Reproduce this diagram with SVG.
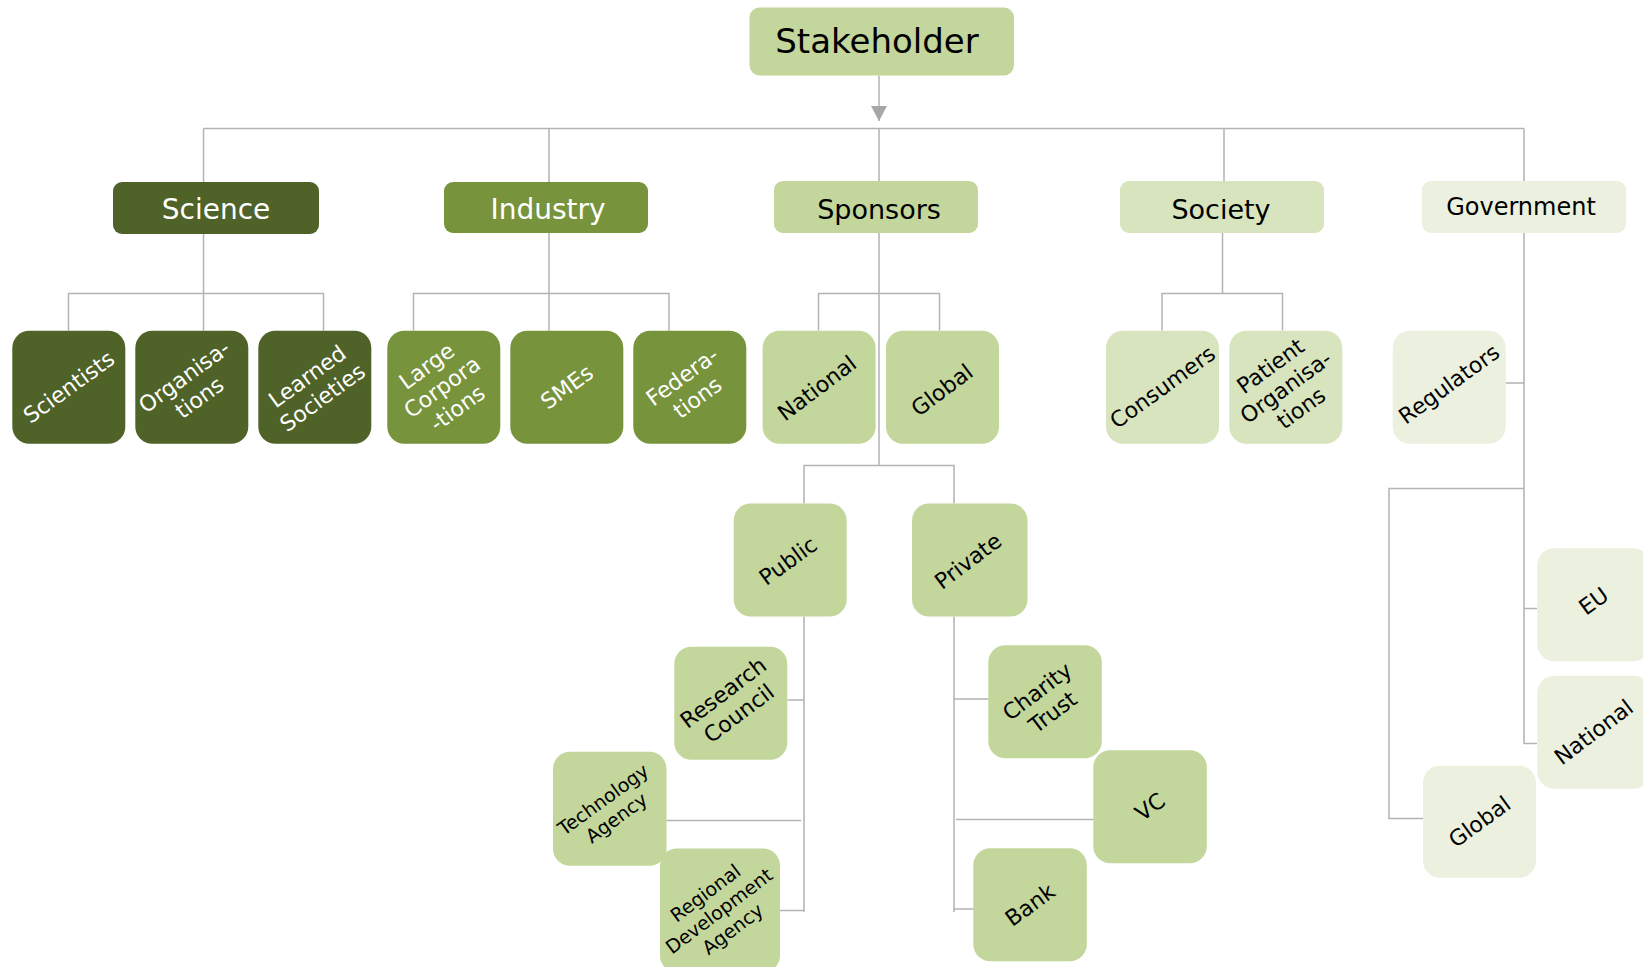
<svg xmlns="http://www.w3.org/2000/svg" width="1643" height="967" viewBox="0 0 1643 967">
<style>
.c{fill:none;stroke:#b3b3b3;stroke-width:1.5}
.t{font-family:"DejaVu Sans",Verdana,sans-serif;text-anchor:middle}
.w{fill:#ffffff}
.k{fill:#000000}
.s22{font-size:22px}
.s19{font-size:19px}
.dg{fill:#4f6228}
.mg{fill:#77933c}
.lg{fill:#c3d69b}
.sg{fill:#d7e4bd}
.pg{fill:#ebf1de}
</style>
<defs>
<marker id="ah" viewBox="0 0 16 16" markerWidth="16" markerHeight="16" refX="15" refY="8" orient="auto" markerUnits="userSpaceOnUse">
<path d="M0,0 L15,8 L0,16 Z" fill="#a6a6a6"/>
</marker>
</defs>
<rect width="1643" height="967" fill="#ffffff"/>
<g id="connectors">
<path class="c" d="M879,75.5 V121" marker-end="url(#ah)"/>
<path class="c" d="M203.5,128.5 H1524 M203.5,128.5 V182 M549,128.5 V182 M879,128.5 V181 M1224,128.5 V181 M1524,128.5 V181"/>
<path class="c" d="M203.5,234 V330.5 M68.5,330.5 V293.5 H323.5 V330.5"/>
<path class="c" d="M549,233 V330.5 M413.5,330.5 V293.5 H669 V330.5"/>
<path class="c" d="M879,233 V465.5 M818.5,330.5 V293.5 H939.5 V330.5 M804,503.5 V465.5 H954 V503.5"/>
<path class="c" d="M1222.5,233 V293.5 M1162,330.5 V293.5 H1282.5 V330.5"/>
<path class="c" d="M1524,233 V608.5 M1505.5,383 H1524 M1524,488.5 H1389 V818.5 H1423 M1524,608.5 H1537 M1524,608.5 V743.5 H1537"/>
<path class="c" d="M804,616.5 V912 M787.5,700 H804 M666.5,820.5 H801 M780,910.5 H804"/>
<path class="c" d="M954,616.5 V912 M954,699 H988.5 M956,819.5 H1093.5 M954,909 H973.5"/>
</g>
<g id="stakeholder"><rect class="lg" x="749.5" y="7.5" width="264.5" height="68" rx="10"/><text class="t k" x="877" y="53" font-size="34">Stakeholder</text></g>
<g id="science"><rect class="dg" x="113" y="182" width="206" height="52" rx="9"/><text class="t w" x="216" y="219" font-size="28">Science</text></g>
<g id="industry"><rect class="mg" x="444" y="182" width="204" height="51" rx="9"/><text class="t w" x="548" y="219" font-size="28">Industry</text></g>
<g id="sponsors"><rect class="lg" x="774" y="181" width="204" height="52" rx="9"/><text class="t k" x="879" y="219" font-size="27">Sponsors</text></g>
<g id="society"><rect class="sg" x="1120" y="181" width="204" height="52" rx="9"/><text class="t k" x="1221" y="219" font-size="27">Society</text></g>
<g id="government"><rect class="pg" x="1422" y="181" width="204" height="52" rx="9"/><text class="t k" x="1521" y="215" font-size="24">Government</text></g>

<g id="scientists"><rect class="dg" x="12.3" y="330.7" width="113" height="113" rx="17"/><text class="t w s22" transform="translate(68.8,387) rotate(-36)" x="0" y="7.7">Scientists</text></g>
<g id="organisations"><rect class="dg" x="135.3" y="330.7" width="113" height="113" rx="17"/><text class="t w s22" transform="translate(191.8,387) rotate(-36)"><tspan x="0" y="-5.3">Organisa-</tspan><tspan x="0" dy="26">tions</tspan></text></g>
<g id="learned-societies"><rect class="dg" x="258.3" y="330.7" width="113" height="113" rx="17"/><text class="t w s22" transform="translate(314.8,387) rotate(-36)"><tspan x="0" y="-5.3">Learned</tspan><tspan x="0" dy="26">Societies</tspan></text></g>
<g id="large-corporations"><rect class="mg" x="387.3" y="330.7" width="113" height="113" rx="17"/><text class="t w s22" transform="translate(442,387) rotate(-36)"><tspan x="0" y="-18.3">Large</tspan><tspan x="0" dy="26">Corpora</tspan><tspan x="0" dy="26">-tions</tspan></text></g>
<g id="smes"><rect class="mg" x="510.3" y="330.7" width="113" height="113" rx="17"/><text class="t w s22" transform="translate(566.8,387) rotate(-36)" x="0" y="7.7">SMEs</text></g>
<g id="federations"><rect class="mg" x="633.3" y="330.7" width="113" height="113" rx="17"/><text class="t w s22" transform="translate(689.8,387) rotate(-36)"><tspan x="0" y="-5.3">Federa-</tspan><tspan x="0" dy="26">tions</tspan></text></g>
<g id="sp-national"><rect class="lg" x="762.6" y="330.7" width="113" height="113" rx="17"/><text class="t k s22" transform="translate(817,388) rotate(-37)" x="0" y="7.7">National</text></g>
<g id="sp-global"><rect class="lg" x="886" y="330.7" width="113" height="113" rx="17"/><text class="t k s22" transform="translate(942,390) rotate(-37)" x="0" y="7.7">Global</text></g>
<g id="consumers"><rect class="sg" x="1106" y="330.7" width="113" height="113" rx="17"/><text class="t k s22" transform="translate(1162.5,387) rotate(-36)" x="0" y="7.7">Consumers</text></g>
<g id="patient-organisations"><rect class="sg" x="1229.3" y="330.7" width="113" height="113" rx="17"/><text class="t k s22" transform="translate(1285.8,387) rotate(-36)"><tspan x="0" y="-18.3">Patient</tspan><tspan x="0" dy="26">Organisa-</tspan><tspan x="0" dy="26">tions</tspan></text></g>
<g id="regulators"><rect class="pg" x="1392.7" y="330.7" width="113" height="113" rx="17"/><text class="t k s22" transform="translate(1449,384) rotate(-36)" x="0" y="7.7">Regulators</text></g>

<g id="public"><rect class="lg" x="733.7" y="503.5" width="113" height="113" rx="17"/><text class="t k s22" transform="translate(788,561) rotate(-36)" x="0" y="7.7">Public</text></g>
<g id="private"><rect class="lg" x="912" y="503.5" width="115.5" height="113" rx="17"/><text class="t k s22" transform="translate(968,561) rotate(-37)" x="0" y="7.7">Private</text></g>
<g id="research-council"><rect class="lg" x="674.3" y="646.8" width="113" height="113" rx="17"/><text class="t k s22" transform="translate(731,703) rotate(-37)"><tspan x="0" y="-5.3">Research</tspan><tspan x="0" dy="26">Council</tspan></text></g>
<g id="technology-agency"><rect class="lg" x="553" y="751.8" width="113.5" height="114" rx="17"/><text class="t k s19" transform="translate(609.8,808.7) rotate(-36)"><tspan x="0" y="-4.6">Technology</tspan><tspan x="0" dy="22.5">Agency</tspan></text></g>
<g id="regional-development-agency"><rect class="lg" x="660" y="848.5" width="120" height="124" rx="17"/><text class="t k s19" transform="translate(719,911) rotate(-37)"><tspan x="0" y="-15.8">Regional</tspan><tspan x="0" dy="22.5">Development</tspan><tspan x="0" dy="22.5">Agency</tspan></text></g>
<g id="charity-trust"><rect class="lg" x="988.3" y="645.3" width="113.5" height="113" rx="17"/><text class="t k s22" transform="translate(1045,701.7) rotate(-37)"><tspan x="0" y="-5.3">Charity</tspan><tspan x="0" dy="26">Trust</tspan></text></g>
<g id="vc"><rect class="lg" x="1093.3" y="750.3" width="113.5" height="113" rx="17"/><text class="t k s22" transform="translate(1150,806.8) rotate(-36)" x="0" y="7.7">VC</text></g>
<g id="bank"><rect class="lg" x="973.3" y="848.3" width="113.5" height="113" rx="17"/><text class="t k s22" transform="translate(1030,904.8) rotate(-36)" x="0" y="7.7">Bank</text></g>

<g id="eu"><rect class="pg" x="1537.3" y="548.3" width="113" height="113" rx="17"/><text class="t k s22" transform="translate(1593.5,601) rotate(-36)" x="0" y="7.7">EU</text></g>
<g id="gov-national"><rect class="pg" x="1537.3" y="675.7" width="113" height="113" rx="17"/><text class="t k s22" transform="translate(1593.7,732) rotate(-37)" x="0" y="7.7">National</text></g>
<g id="gov-global"><rect class="pg" x="1423" y="765.7" width="113" height="112" rx="17"/><text class="t k s22" transform="translate(1479.5,821.7) rotate(-36)" x="0" y="7.7">Global</text></g>
</svg>
